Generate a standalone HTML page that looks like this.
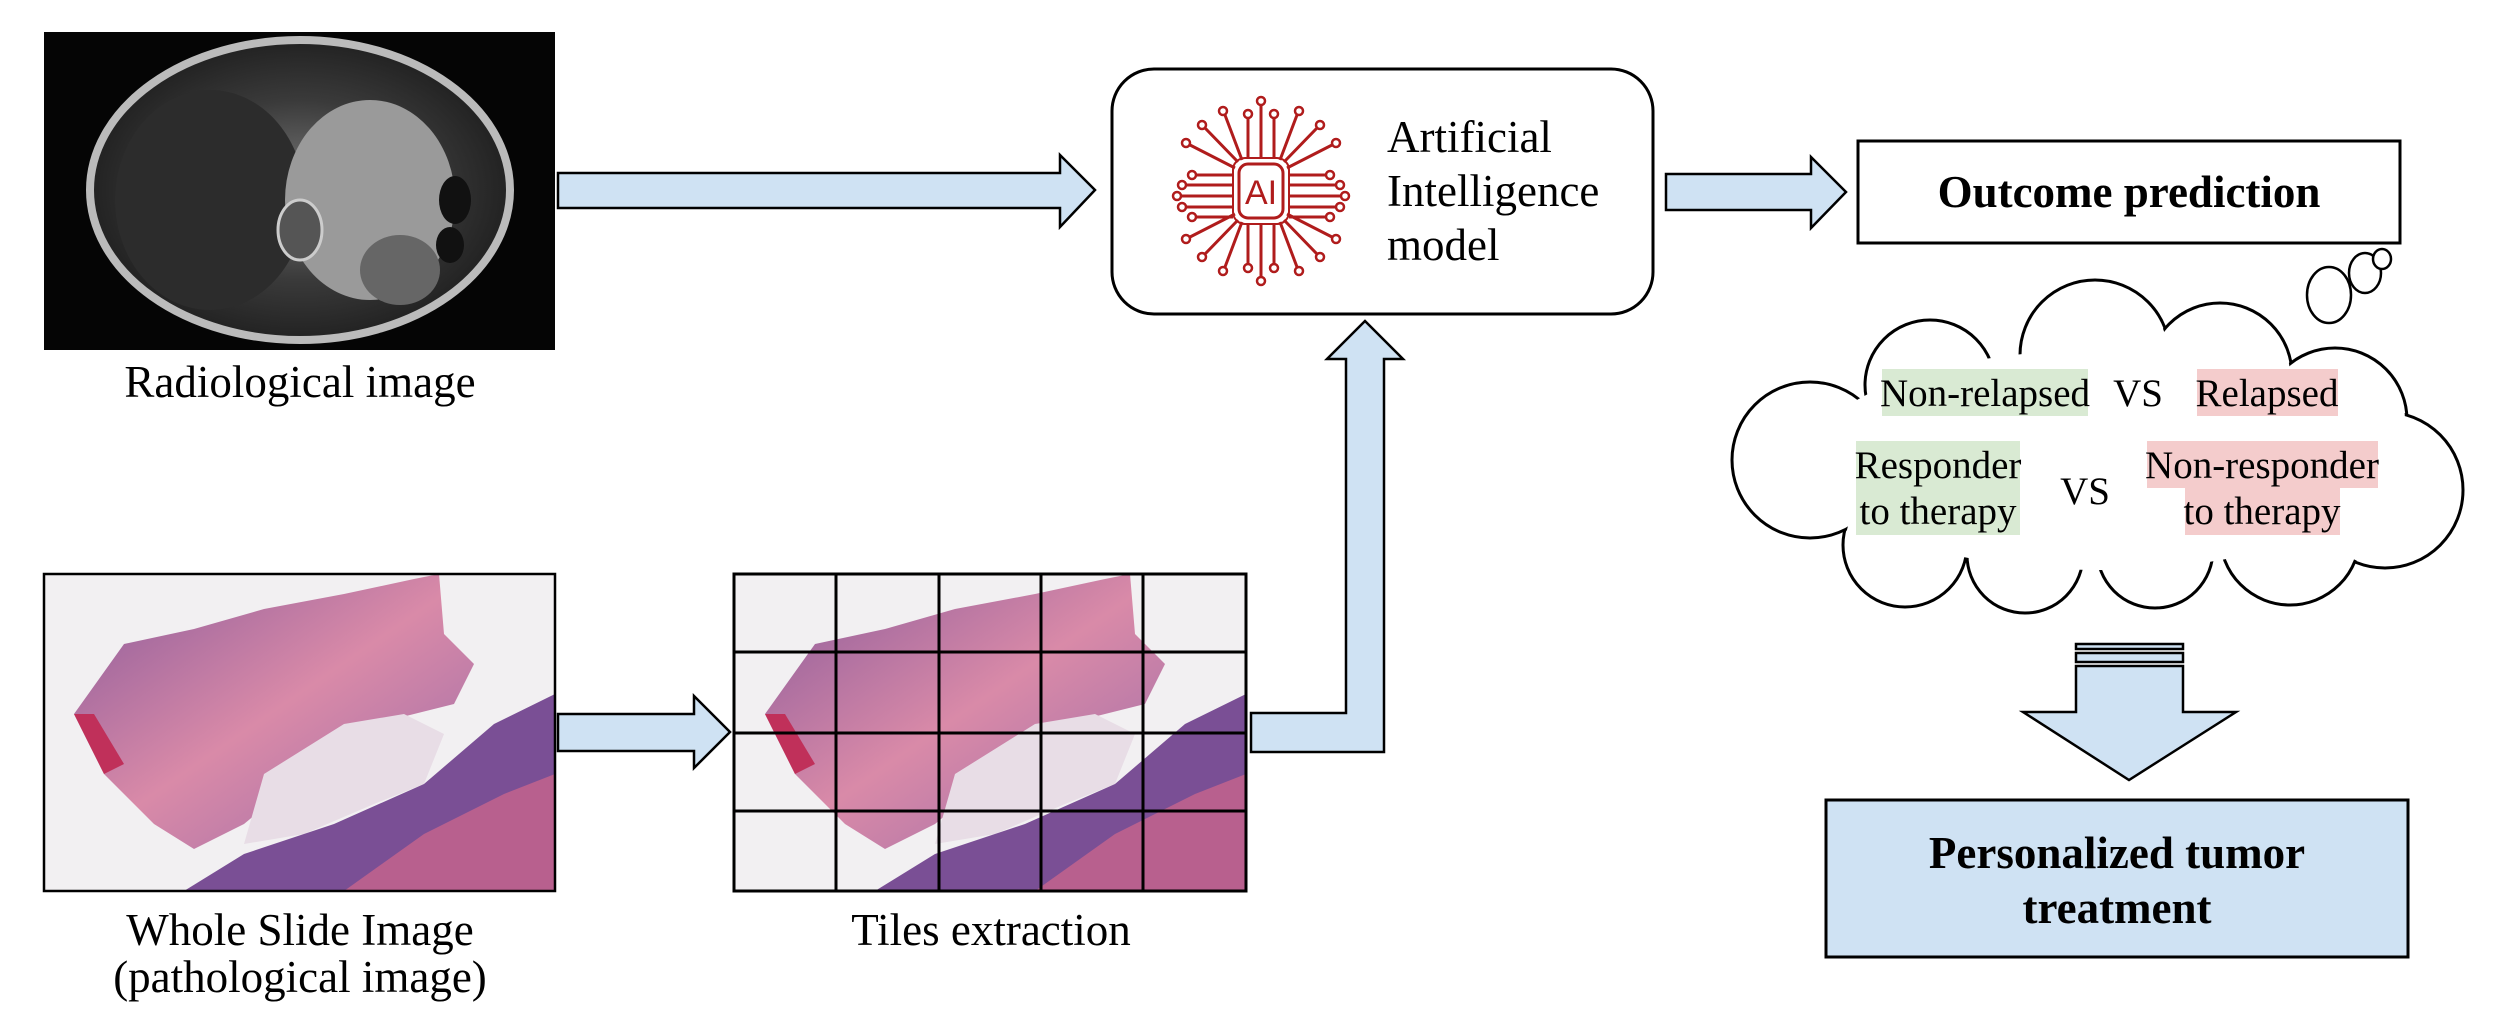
<!DOCTYPE html>
<html><head><meta charset="utf-8"><style>
html,body{margin:0;padding:0;background:#fff;}
svg{display:block;}
text{font-family:"Liberation Serif",serif;fill:#000;}
</style></head><body>
<svg width="2500" height="1026" viewBox="0 0 2500 1026" xmlns="http://www.w3.org/2000/svg">
<defs>
<radialGradient id="mri" cx="0.5" cy="0.5" r="0.5">
<stop offset="0" stop-color="#7a7a7a"/><stop offset="0.6" stop-color="#3a3a3a"/><stop offset="1" stop-color="#222"/>
</radialGradient>
<linearGradient id="tis" x1="0" y1="0" x2="1" y2="1">
<stop offset="0" stop-color="#8a5a9a"/><stop offset="0.5" stop-color="#d98aa8"/><stop offset="1" stop-color="#9a6aa8"/>
</linearGradient>
<clipPath id="c1"><rect x="44" y="574" width="511" height="317"/></clipPath>
<clipPath id="c2"><rect x="734" y="574" width="512" height="317"/></clipPath>
<g id="tissue">
<rect x="0" y="0" width="511" height="317" fill="#f2f0f2"/>
<path d="M30 140 L80 70 L150 55 L220 35 L300 20 L370 5 L395 0 L400 60 L430 90 L410 130 L330 150 L260 200 L200 250 L150 275 L110 250 L60 200 Z" fill="url(#tis)"/>
<path d="M220 200 L300 150 L360 140 L400 160 L380 210 L330 230 L260 260 L200 270 Z" fill="#e8dde6"/>
<path d="M140 317 L200 280 L290 250 L380 210 L450 150 L511 120 L511 317 Z" fill="#7a4f95"/>
<path d="M300 317 L380 260 L460 220 L511 200 L511 317 Z" fill="#b8608e"/>
<path d="M30 140 L60 200 L80 190 L50 140 Z" fill="#c0305a"/>
</g>
</defs>

<!-- MRI -->
<rect x="44" y="32" width="511" height="318" fill="#050505"/>
<ellipse cx="300" cy="190" rx="210" ry="150" fill="url(#mri)" stroke="#bbb" stroke-width="8"/>
<ellipse cx="210" cy="200" rx="95" ry="110" fill="#2c2c2c"/>
<ellipse cx="370" cy="200" rx="85" ry="100" fill="#9a9a9a"/>
<ellipse cx="400" cy="270" rx="40" ry="35" fill="#666"/>
<ellipse cx="300" cy="230" rx="22" ry="30" fill="#555" stroke="#ccc" stroke-width="3"/>
<ellipse cx="455" cy="200" rx="16" ry="24" fill="#111"/>
<ellipse cx="450" cy="245" rx="14" ry="18" fill="#111"/>
<text x="300" y="397" font-size="45" text-anchor="middle">Radiological image</text>

<!-- arrow 1 -->
<path d="M558 173 L1060 173 L1060 155 L1095 190 L1060 227 L1060 208 L558 208 Z" fill="#cfe2f3" stroke="#000" stroke-width="2.5"/>

<!-- AI box -->
<rect x="1112" y="69" width="541" height="245" rx="42" fill="#fff" stroke="#000" stroke-width="3"/>
<g stroke="#b01c1c" stroke-width="3" fill="none">
<rect x="1239" y="164" width="44" height="54" rx="9"/>
<rect x="1233" y="158" width="56" height="66" rx="12" stroke-width="2"/>
<path d="M1233 175 H1195 M1233 185 H1185 M1233 196 H1180 M1233 207 H1185 M1233 217 H1195"/>
<path d="M1289 175 H1327 M1289 185 H1337 M1289 196 H1342 M1289 207 H1337 M1289 217 H1327"/>
<path d="M1248 158 V118 M1261 158 V105 M1274 158 V118 M1248 224 V264 M1261 224 V277 M1274 224 V264"/>
<path d="M1238 162 L1205 128 M1284 162 L1317 128 M1238 220 L1205 254 M1284 220 L1317 254"/>
<path d="M1242 160 L1225 115 M1280 160 L1297 115 M1242 222 L1225 267 M1280 222 L1297 267"/>
<path d="M1235 168 L1190 145 M1287 168 L1332 145 M1235 214 L1190 237 M1287 214 L1332 237"/>
</g>
<g fill="#fff" stroke="#b01c1c" stroke-width="2.5">
<circle cx="1192" cy="175" r="4"/><circle cx="1182" cy="185" r="4"/><circle cx="1177" cy="196" r="4"/><circle cx="1182" cy="207" r="4"/><circle cx="1192" cy="217" r="4"/>
<circle cx="1330" cy="175" r="4"/><circle cx="1340" cy="185" r="4"/><circle cx="1345" cy="196" r="4"/><circle cx="1340" cy="207" r="4"/><circle cx="1330" cy="217" r="4"/>
<circle cx="1248" cy="114" r="4"/><circle cx="1261" cy="101" r="4"/><circle cx="1274" cy="114" r="4"/><circle cx="1248" cy="268" r="4"/><circle cx="1261" cy="281" r="4"/><circle cx="1274" cy="268" r="4"/>
<circle cx="1202" cy="125" r="4"/><circle cx="1320" cy="125" r="4"/><circle cx="1202" cy="257" r="4"/><circle cx="1320" cy="257" r="4"/>
<circle cx="1223" cy="111" r="4"/><circle cx="1299" cy="111" r="4"/><circle cx="1223" cy="271" r="4"/><circle cx="1299" cy="271" r="4"/>
<circle cx="1186" cy="143" r="4"/><circle cx="1336" cy="143" r="4"/><circle cx="1186" cy="239" r="4"/><circle cx="1336" cy="239" r="4"/>
</g>
<text x="1261" y="204" font-size="34" text-anchor="middle" style="fill:#b01c1c;font-family:'Liberation Sans',sans-serif">AI</text>
<text x="1387" y="152" font-size="45">Artificial</text>
<text x="1387" y="206" font-size="45">Intelligence</text>
<text x="1387" y="260" font-size="45">model</text>

<!-- arrow 2 -->
<path d="M1666 174 L1811 174 L1811 157 L1846 192 L1811 228 L1811 210 L1666 210 Z" fill="#cfe2f3" stroke="#000" stroke-width="2.5"/>

<!-- Outcome box -->
<rect x="1858" y="141" width="542" height="102" fill="#fff" stroke="#000" stroke-width="3"/>
<text x="2129" y="207" font-size="45" font-weight="bold" text-anchor="middle">Outcome prediction</text>

<!-- cloud -->
<g fill="#fff" stroke="#000" stroke-width="3">
<circle cx="2095" cy="355" r="75"/><circle cx="1930" cy="385" r="65"/><circle cx="2220" cy="375" r="72"/>
<circle cx="2335" cy="420" r="72"/><circle cx="2385" cy="490" r="78"/><circle cx="2290" cy="535" r="70"/>
<circle cx="2155" cy="550" r="58"/><circle cx="2025" cy="555" r="58"/><circle cx="1905" cy="545" r="62"/>
<circle cx="1810" cy="460" r="78"/>
</g>
<g fill="#fff">
<circle cx="2095" cy="355" r="73"/><circle cx="1930" cy="385" r="63"/><circle cx="2220" cy="375" r="70"/>
<circle cx="2335" cy="420" r="70"/><circle cx="2385" cy="490" r="76"/><circle cx="2290" cy="535" r="68"/>
<circle cx="2155" cy="550" r="56"/><circle cx="2025" cy="555" r="56"/><circle cx="1905" cy="545" r="60"/>
<circle cx="1810" cy="460" r="76"/>
<ellipse cx="2100" cy="460" rx="290" ry="110"/>
</g>
<g fill="#fff" stroke="#000" stroke-width="2.5">
<ellipse cx="2329" cy="295" rx="22" ry="28"/>
<ellipse cx="2365" cy="273" rx="16" ry="20"/>
<ellipse cx="2382" cy="259" rx="9" ry="10"/>
</g>
<rect x="1882" y="369" width="206" height="47" fill="#d9ead3"/>
<rect x="2197" y="369" width="141" height="47" fill="#f4cccc"/>
<rect x="1856" y="441" width="164" height="94" fill="#d9ead3"/>
<rect x="2147" y="441" width="231" height="47" fill="#f4cccc"/>
<rect x="2185" y="488" width="155" height="47" fill="#f4cccc"/>
<g font-size="39">
<text x="1985" y="406" text-anchor="middle">Non-relapsed</text>
<text x="2138" y="406" text-anchor="middle">VS</text>
<text x="2267" y="406" text-anchor="middle">Relapsed</text>
<text x="1938" y="478" text-anchor="middle">Responder</text>
<text x="1938" y="524" text-anchor="middle">to therapy</text>
<text x="2085" y="504" text-anchor="middle">VS</text>
<text x="2262" y="478" text-anchor="middle">Non-responder</text>
<text x="2262" y="524" text-anchor="middle">to therapy</text>
</g>

<!-- down arrow -->
<g fill="#cfe2f3" stroke="#000" stroke-width="2.5">
<rect x="2076" y="644" width="107" height="5"/>
<rect x="2076" y="653" width="107" height="9"/>
<path d="M2076 666 L2183 666 L2183 712 L2236 712 L2129 780 L2023 712 L2076 712 Z"/>
</g>

<!-- Personalized box -->
<rect x="1826" y="800" width="582" height="157" fill="#cfe2f3" stroke="#000" stroke-width="3"/>
<text x="2117" y="868" font-size="45" font-weight="bold" text-anchor="middle">Personalized tumor</text>
<text x="2117" y="923" font-size="45" font-weight="bold" text-anchor="middle">treatment</text>

<!-- WSI -->
<g clip-path="url(#c1)"><use href="#tissue" x="44" y="574"/></g>
<rect x="44" y="574" width="511" height="317" fill="none" stroke="#000" stroke-width="2.5"/>
<text x="300" y="945" font-size="45" text-anchor="middle">Whole Slide Image</text>
<text x="300" y="992" font-size="45" text-anchor="middle">(pathological image)</text>

<!-- arrow 3 -->
<path d="M558 714 L694 714 L694 696 L730 732 L694 768 L694 751 L558 751 Z" fill="#cfe2f3" stroke="#000" stroke-width="2.5"/>

<!-- Tiles -->
<g clip-path="url(#c2)"><use href="#tissue" x="735" y="574"/></g>
<g stroke="#000" stroke-width="3" fill="none">
<rect x="734" y="574" width="512" height="317"/>
<path d="M836 574 V891 M939 574 V891 M1041 574 V891 M1143 574 V891 M734 652 H1246 M734 733 H1246 M734 811 H1246"/>
</g>
<text x="991" y="945" font-size="45" text-anchor="middle">Tiles extraction</text>

<!-- elbow arrow -->
<path d="M1251 713 L1346 713 L1346 359 L1327 359 L1365 321 L1403 359 L1384 359 L1384 752 L1251 752 Z" fill="#cfe2f3" stroke="#000" stroke-width="2.5"/>
</svg>
</body></html>
